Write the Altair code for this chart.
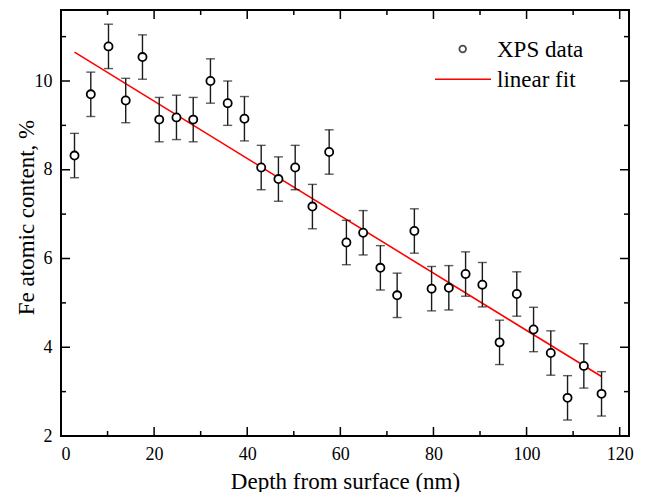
import altair as alt
import pandas as pd

# ---- data ----
depth = [2.9, 6.4, 10.2, 13.9, 17.5, 21.1, 24.8, 28.4, 32.1, 35.8, 39.4,
         43.0, 46.7, 50.3, 54.0, 57.6, 61.3, 64.9, 68.6, 72.2, 75.9, 79.6,
         83.3, 86.9, 90.5, 94.2, 97.9, 101.5, 105.2, 108.8, 112.3, 116.1]
fe = [8.32, 9.70, 10.78, 9.56, 10.54, 9.13, 9.18, 9.13, 10.00, 9.50, 9.15,
      8.05, 7.79, 8.05, 7.17, 8.40, 6.36, 6.58, 5.79, 5.17, 6.62, 5.32,
      5.34, 5.65, 5.41, 4.11, 5.20, 4.40, 3.87, 2.86, 3.58, 2.95]
err = [0.5] * len(depth)

fit_x = [2.9, 116.1]
fit_y = [10.65, 3.34]

x_major = [0, 20, 40, 60, 80, 100, 120]
x_minor = [10, 30, 50, 70, 90, 110]
y_major = [2, 4, 6, 8, 10]
y_minor = [3, 5, 7, 9, 11]

legend_labels = ["XPS data", "linear fit"]

# ---- layout ----
W, H = 568, 426
FONT = "Liberation Serif"
XD = [0, 122]
YD = [2, 11.6]

df = pd.DataFrame({"depth": depth, "fe": fe, "err": err})
df["lo"] = df["fe"] - df["err"]
df["hi"] = df["fe"] + df["err"]
fit = pd.DataFrame({"depth": fit_x, "fe": fit_y})

xs = alt.Scale(domain=XD, nice=False, zero=False)
ys = alt.Scale(domain=YD, nice=False, zero=False)

x_enc = alt.X("depth:Q", scale=xs,
              axis=alt.Axis(values=x_major, title="Depth from surface (nm)",
                            titleY=52, titleBaseline="alphabetic",
                            labelPadding=9, labelFontSize=18, titleFontSize=23,
                            labelFont=FONT, titleFont=FONT, titleFontWeight="normal",
                            labelColor="black", titleColor="black"))
y_enc = alt.Y("fe:Q", scale=ys,
              axis=alt.Axis(values=y_major, title="Fe atomic content, %",
                            titleX=-28, titleY=207, titleBaseline="alphabetic",
                            labelPadding=9, labelFontSize=18, titleFontSize=23,
                            labelFont=FONT, titleFont=FONT, titleFontWeight="normal",
                            labelColor="black", titleColor="black"))

line = alt.Chart(fit).mark_line(color="#ff0000", strokeWidth=1.6).encode(x=x_enc, y=y_enc)

bars = alt.Chart(df).mark_rule(color="#1a1a1a", strokeWidth=1.4).encode(
    x=alt.X("depth:Q", scale=xs), y=alt.Y("lo:Q", scale=ys), y2="hi:Q")
caps_lo = alt.Chart(df).mark_tick(color="#1a1a1a", orient="horizontal", size=9, thickness=1.4).encode(
    x=alt.X("depth:Q", scale=xs), y=alt.Y("lo:Q", scale=ys))
caps_hi = alt.Chart(df).mark_tick(color="#1a1a1a", orient="horizontal", size=9, thickness=1.4).encode(
    x=alt.X("depth:Q", scale=xs), y=alt.Y("hi:Q", scale=ys))
pts = alt.Chart(df).mark_point(shape="circle", size=66, filled=False, fill="white",
                               fillOpacity=1, color="black", strokeWidth=1.8).encode(
    x=alt.X("depth:Q", scale=xs), y=alt.Y("fe:Q", scale=ys))


def xticks(vals, length):
    d = pd.DataFrame({"v": vals})
    bot = alt.Chart(d).mark_rule(color="black", strokeWidth=1.5).encode(
        x=alt.X("v:Q", scale=xs), y=alt.value(H), y2=alt.value(H - length))
    top = alt.Chart(d).mark_rule(color="black", strokeWidth=1.5).encode(
        x=alt.X("v:Q", scale=xs), y=alt.value(0), y2=alt.value(length))
    return [bot, top]


def yticks(vals, length):
    d = pd.DataFrame({"v": vals})
    left = alt.Chart(d).mark_rule(color="black", strokeWidth=1.5).encode(
        y=alt.Y("v:Q", scale=ys), x=alt.value(0), x2=alt.value(length))
    right = alt.Chart(d).mark_rule(color="black", strokeWidth=1.5).encode(
        y=alt.Y("v:Q", scale=ys), x=alt.value(W), x2=alt.value(W - length))
    return [left, right]


ticks = xticks(x_major, 9) + xticks(x_minor, 5) + yticks(y_major, 9) + yticks(y_minor, 5)

# ---- legend ----
leg_sym = alt.Chart(pd.DataFrame({"l": [legend_labels[0]]})).mark_point(
    shape="circle", size=44, filled=False, color="black", strokeWidth=1.8).encode(
    x=alt.value(401.7), y=alt.value(39))
leg_line = alt.Chart(pd.DataFrame({"l": [legend_labels[1]]})).mark_rule(
    color="#ff0000", strokeWidth=1.6).encode(
    x=alt.value(374), x2=alt.value(430), y=alt.value(69.3))
leg_text = alt.Chart(pd.DataFrame({"l": legend_labels, "yy": [46.7, 76.7]})).mark_text(
    align="left", baseline="alphabetic", font=FONT, fontSize=23, color="black").encode(
    x=alt.value(436), y=alt.Y("yy:Q", scale=None), text="l:N")

chart = alt.layer(line, bars, caps_lo, caps_hi, pts, *ticks, leg_sym, leg_line, leg_text).properties(
    width=W, height=H,
    padding={"left": 53, "top": 2, "right": 10, "bottom": 56},
    autosize=alt.AutoSizeParams(type="none"),
    background="white",
).configure_view(stroke="black", strokeWidth=2).configure_axis(
    domain=False, ticks=False, grid=False, labelFont=FONT, titleFont=FONT,
    labelColor="black", titleColor="black", titleFontWeight="normal",
)

chart.save("out.html", embed_options={"renderer": "svg", "actions": False})
